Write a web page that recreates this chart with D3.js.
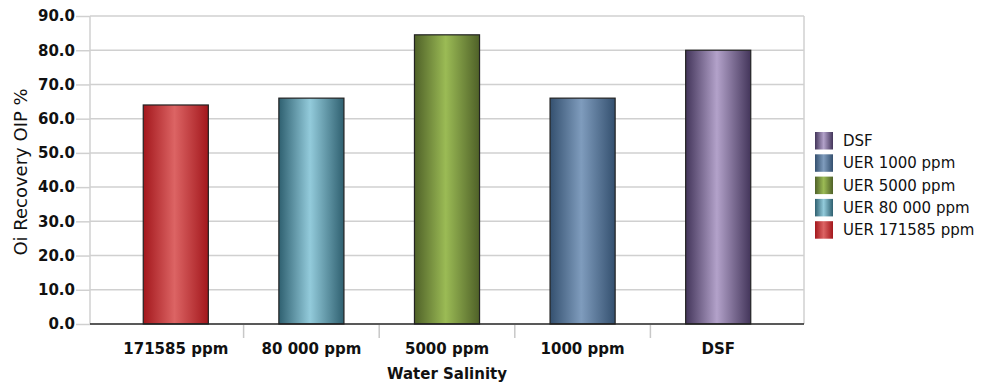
<!DOCTYPE html>
<html>
<head>
<meta charset="utf-8">
<script src="https://cdn.jsdelivr.net/npm/d3@7"></script>
<style>
  html, body { margin: 0; padding: 0; background: #fff; }
  svg { display: block; font-family: "DejaVu Sans", Verdana, sans-serif; }
</style>
</head>
<body>
<svg id="chart" width="988" height="387"></svg>
<script>
// Oil recovery by injected water salinity
const categories = ["171585 ppm", "80 000 ppm", "5000 ppm", "1000 ppm", "DSF"];
const seriesNames = ["UER 171585 ppm", "UER 80 000 ppm", "UER 5000 ppm", "UER 1000 ppm", "DSF"];
const recovery = [64.0, 66.0, 84.5, 66.0, 80.0];
const yTicks = [0, 10, 20, 30, 40, 50, 60, 70, 80, 90];

// edge / centre shades for the cylinder-like bar fills
const edgeColors = ["#a3171c", "#2f6070", "#4f6128", "#34506f", "#43355a"];
const midColors  = ["#dc6464", "#93cbdb", "#9bbb55", "#7f9cbd", "#b3a2ca"];

const svg = d3.select("#chart");
const plot = { left: 90, right: 804, top: 16, bottom: 324 };

const defs = svg.append("defs");
categories.forEach((c, i) => {
  const g = defs.append("linearGradient")
    .attr("id", "grad" + i)
    .attr("x1", "0%").attr("x2", "100%").attr("y1", "0%").attr("y2", "0%");
  g.append("stop").attr("offset", "0%").attr("stop-color", edgeColors[i]);
  g.append("stop").attr("offset", "48%").attr("stop-color", midColors[i]);
  g.append("stop").attr("offset", "100%").attr("stop-color", edgeColors[i]);
});

const y = d3.scaleLinear().domain([0, 90]).range([plot.bottom, plot.top]);
const x = d3.scaleBand()
  .domain(categories)
  .range([plot.left + 18, plot.right - 18])
  .paddingInner(0).paddingOuter(0);

// horizontal grid lines with short tick stubs on the left
const yAxis = d3.axisLeft(y)
  .tickValues(yTicks)
  .tickFormat(d3.format(".1f"))
  .tickSize(14)
  .tickPadding(1);
const yG = svg.append("g")
  .attr("transform", `translate(${plot.left},0)`)
  .call(yAxis);
yG.select(".domain").remove();
yG.selectAll(".tick line").attr("stroke", "#d0d0d0").attr("stroke-width", 1.5);
yG.selectAll(".tick text")
  .attr("font-size", 15).attr("font-weight", "bold").attr("fill", "#111")
  .attr("font-family", "DejaVu Sans, Verdana, sans-serif");

svg.append("g")
  .selectAll("line")
  .data(yTicks.filter(d => d > 0))
  .join("line")
  .attr("x1", plot.left).attr("x2", plot.right)
  .attr("y1", d => y(d)).attr("y2", d => y(d))
  .attr("stroke", "#d0d0d0").attr("stroke-width", 1.5);

// plot frame: left and right verticals
svg.append("line")
  .attr("x1", plot.left).attr("x2", plot.left)
  .attr("y1", plot.top).attr("y2", plot.bottom)
  .attr("stroke", "#d0d0d0").attr("stroke-width", 1.5);
svg.append("line")
  .attr("x1", plot.right).attr("x2", plot.right)
  .attr("y1", plot.top).attr("y2", plot.bottom)
  .attr("stroke", "#d0d0d0").attr("stroke-width", 1.5);

// bars
const barW = x.bandwidth() * 0.48;
svg.append("g")
  .selectAll("rect")
  .data(categories)
  .join("rect")
  .attr("x", d => x(d) + (x.bandwidth() - barW) / 2)
  .attr("y", (d, i) => y(recovery[i]))
  .attr("width", barW)
  .attr("height", (d, i) => y(0) - y(recovery[i]))
  .attr("fill", (d, i) => `url(#grad${i})`)
  .attr("stroke", "#222")
  .attr("stroke-width", 1.2);

// x axis: baseline, separators between categories, labels
svg.append("line")
  .attr("x1", plot.left).attr("x2", plot.right)
  .attr("y1", plot.bottom).attr("y2", plot.bottom)
  .attr("stroke", "#222").attr("stroke-width", 1.5);

svg.append("g")
  .selectAll("line")
  .data(categories.slice(1))
  .join("line")
  .attr("x1", d => x(d)).attr("x2", d => x(d))
  .attr("y1", plot.bottom + 1).attr("y2", plot.bottom + 14)
  .attr("stroke", "#c8c8c8").attr("stroke-width", 1.5);

svg.append("g")
  .selectAll("text")
  .data(categories)
  .join("text")
  .attr("x", d => x(d) + x.bandwidth() / 2)
  .attr("y", 354)
  .attr("text-anchor", "middle")
  .attr("font-size", 15).attr("font-weight", "bold").attr("fill", "#111")
  .text(d => d);

// axis titles
svg.append("text")
  .attr("x", (plot.left + plot.right) / 2)
  .attr("y", 379)
  .attr("text-anchor", "middle")
  .attr("font-size", 15).attr("font-weight", "bold").attr("fill", "#111")
  .text("Water Salinity");

svg.append("text")
  .attr("transform", `translate(27,172) rotate(-90)`)
  .attr("text-anchor", "middle")
  .attr("font-size", 18).attr("fill", "#111")
  .text("Oi Recovery OIP %");

// legend, listed last series first
const legendOrder = d3.range(seriesNames.length).reverse();
const lg = svg.append("g").attr("transform", "translate(815,132)");
const item = lg.selectAll("g")
  .data(legendOrder)
  .join("g")
  .attr("transform", (d, k) => `translate(0,${k * 22.3})`);
item.append("rect")
  .attr("width", 18).attr("height", 17.5)
  .attr("fill", d => `url(#grad${d})`);
item.append("text")
  .attr("x", 28).attr("y", 14)
  .attr("font-size", 15).attr("fill", "#111")
  .text(d => seriesNames[d]);
</script>
</body>
</html>
